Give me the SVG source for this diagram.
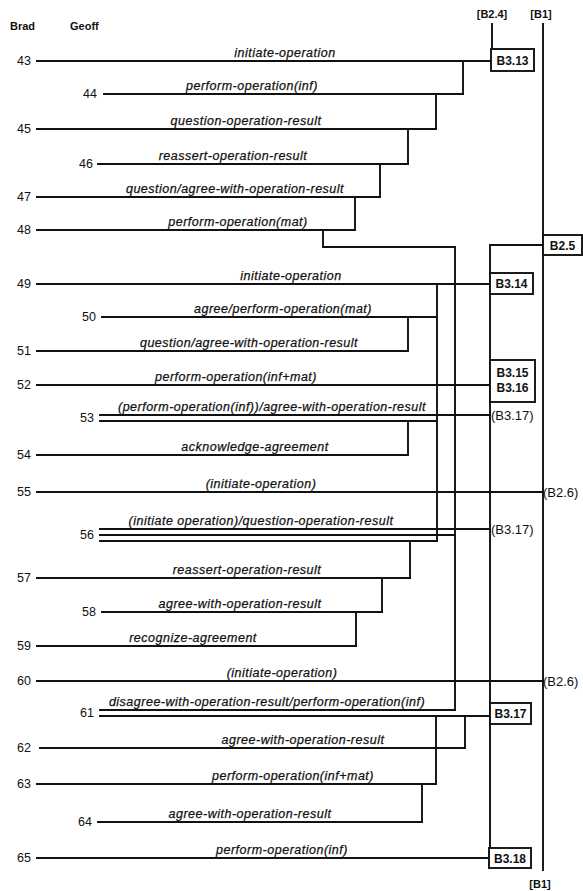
<svg xmlns="http://www.w3.org/2000/svg" width="583" height="891" viewBox="0 0 583 891">
<style>
.ln{stroke:#111;stroke-width:1.9;fill:none;stroke-linecap:square}
.bx{stroke:#111;stroke-width:1.9;fill:#fff}
.lb{font-family:"Liberation Sans",Arial,sans-serif;font-style:italic;font-size:12.5px;letter-spacing:0.5px;fill:#111;stroke:#111;stroke-width:0.25;text-anchor:middle}
.nb{font-family:"Liberation Sans",Arial,sans-serif;font-size:12.5px;fill:#111;text-anchor:end}
.hd{font-family:"Liberation Sans",Arial,sans-serif;font-size:11px;font-weight:bold;fill:#111}
.bt{font-family:"Liberation Sans",Arial,sans-serif;font-size:12px;font-weight:bold;fill:#111;text-anchor:middle}
.im{font-family:"Liberation Sans",Arial,sans-serif;font-size:13px;fill:#111}
</style>
<rect width="583" height="891" fill="#fff"/>
<g id="header">
<text class="hd" x="10" y="30">Brad</text>
<text class="hd" x="70" y="30">Geoff</text>
<text class="hd" x="492" y="18" text-anchor="middle">[B2.4]</text>
<text class="hd" x="541" y="18" text-anchor="middle">[B1]</text>
<text class="hd" x="540" y="888" text-anchor="middle">[B1]</text>
</g>
<g id="connectors">
<path class="ln" d="M492 24V49"/>
<path class="ln" d="M543 24V870"/>
<path class="ln" d="M463 61V94"/>
<path class="ln" d="M436 94V129"/>
<path class="ln" d="M408 129V164"/>
<path class="ln" d="M380 164V197"/>
<path class="ln" d="M355 197V230"/>
<path class="ln" d="M323 230V247H455V710"/>
<path class="ln" d="M543 245H490V848"/>
<path class="ln" d="M437 284V541"/>
<path class="ln" d="M408 317V351"/>
<path class="ln" d="M408 421V455"/>
<path class="ln" d="M410 541V578"/>
<path class="ln" d="M382 578V612"/>
<path class="ln" d="M356 612V646"/>
<path class="ln" d="M465 716V748"/>
<path class="ln" d="M436 716V784"/>
<path class="ln" d="M422 784V822"/>
</g>
<g id="u43"><text class="nb" x="31" y="65">43</text><path class="ln" d="M37 61H491"/><text class="lb" x="285" y="57">initiate-operation</text></g>
<g id="u44"><text class="nb" x="97" y="98">44</text><path class="ln" d="M104 94H463"/><text class="lb" x="252" y="90">perform-operation(inf)</text></g>
<g id="u45"><text class="nb" x="31" y="133">45</text><path class="ln" d="M37 129H436"/><text class="lb" x="246" y="125">question-operation-result</text></g>
<g id="u46"><text class="nb" x="93" y="168">46</text><path class="ln" d="M98 164H408"/><text class="lb" x="233" y="160">reassert-operation-result</text></g>
<g id="u47"><text class="nb" x="31" y="201">47</text><path class="ln" d="M37 197H380"/><text class="lb" x="235" y="193">question/agree-with-operation-result</text></g>
<g id="u48"><text class="nb" x="31" y="234">48</text><path class="ln" d="M37 230H355"/><text class="lb" x="238" y="226">perform-operation(mat)</text></g>
<g id="u49"><text class="nb" x="31" y="288">49</text><path class="ln" d="M37 284H490"/><text class="lb" x="291" y="280">initiate-operation</text></g>
<g id="u50"><text class="nb" x="96" y="321">50</text><path class="ln" d="M102 317H437"/><text class="lb" x="283" y="313">agree/perform-operation(mat)</text></g>
<g id="u51"><text class="nb" x="31" y="355">51</text><path class="ln" d="M37 351H408"/><text class="lb" x="249" y="347">question/agree-with-operation-result</text></g>
<g id="u52"><text class="nb" x="31" y="389">52</text><path class="ln" d="M37 385H490"/><text class="lb" x="236" y="381">perform-operation(inf+mat)</text></g>
<g id="u53"><text class="nb" x="94" y="422">53</text><path class="ln" d="M100 415H490M100 421H437"/><text class="lb" x="272" y="411">(perform-operation(inf))/agree-with-operation-result</text><text class="im" x="491" y="420">(B3.17)</text></g>
<g id="u54"><text class="nb" x="31" y="459">54</text><path class="ln" d="M37 455H408"/><text class="lb" x="255" y="451">acknowledge-agreement</text></g>
<g id="u55"><text class="nb" x="31" y="496">55</text><path class="ln" d="M37 492H543"/><text class="lb" x="261" y="488">(initiate-operation)</text><text class="im" x="543" y="497">(B2.6)</text></g>
<g id="u56"><text class="nb" x="94" y="539">56</text><path class="ln" d="M100 529H490M100 535H455M100 541H437"/><text class="lb" x="261" y="525">(initiate operation)/question-operation-result</text><text class="im" x="491" y="534">(B3.17)</text></g>
<g id="u57"><text class="nb" x="31" y="582">57</text><path class="ln" d="M37 578H410"/><text class="lb" x="247" y="574">reassert-operation-result</text></g>
<g id="u58"><text class="nb" x="96" y="616">58</text><path class="ln" d="M102 612H382"/><text class="lb" x="240" y="608">agree-with-operation-result</text></g>
<g id="u59"><text class="nb" x="31" y="650">59</text><path class="ln" d="M37 646H356"/><text class="lb" x="193" y="642">recognize-agreement</text></g>
<g id="u60"><text class="nb" x="31" y="685">60</text><path class="ln" d="M37 681H543"/><text class="lb" x="282" y="677">(initiate-operation)</text><text class="im" x="543" y="686">(B2.6)</text></g>
<g id="u61"><text class="nb" x="94" y="717">61</text><path class="ln" d="M100 710H455M100 716H490"/><text class="lb" x="267" y="706">disagree-with-operation-result/perform-operation(inf)</text></g>
<g id="u62"><text class="nb" x="31" y="752">62</text><path class="ln" d="M40 748H465"/><text class="lb" x="303" y="744">agree-with-operation-result</text></g>
<g id="u63"><text class="nb" x="31" y="788">63</text><path class="ln" d="M37 784H436"/><text class="lb" x="293" y="780">perform-operation(inf+mat)</text></g>
<g id="u64"><text class="nb" x="92" y="826">64</text><path class="ln" d="M98 822H422"/><text class="lb" x="250" y="818">agree-with-operation-result</text></g>
<g id="u65"><text class="nb" x="31" y="862">65</text><path class="ln" d="M37 858H489"/><text class="lb" x="282" y="854">perform-operation(inf)</text></g>
<g id="B3.13"><rect class="bx" x="491" y="49" width="43" height="22"/><text class="bt" x="512.5" y="64.5">B3.13</text></g>
<g id="B2.5"><rect class="bx" x="543" y="235" width="39" height="20"/><text class="bt" x="562.5" y="249.5">B2.5</text></g>
<g id="B3.14"><rect class="bx" x="490" y="273" width="43" height="21"/><text class="bt" x="511.5" y="288">B3.14</text></g>
<g id="B3.15-16"><rect class="bx" x="490" y="360" width="45" height="42"/><text class="bt" x="512.5" y="377">B3.15</text><text class="bt" x="512.5" y="392">B3.16</text></g>
<g id="B3.17"><rect class="bx" x="490" y="703" width="41" height="21"/><text class="bt" x="510.5" y="718">B3.17</text></g>
<g id="B3.18"><rect class="bx" x="489" y="848" width="42" height="20"/><text class="bt" x="510" y="862.5">B3.18</text></g>
</svg>
